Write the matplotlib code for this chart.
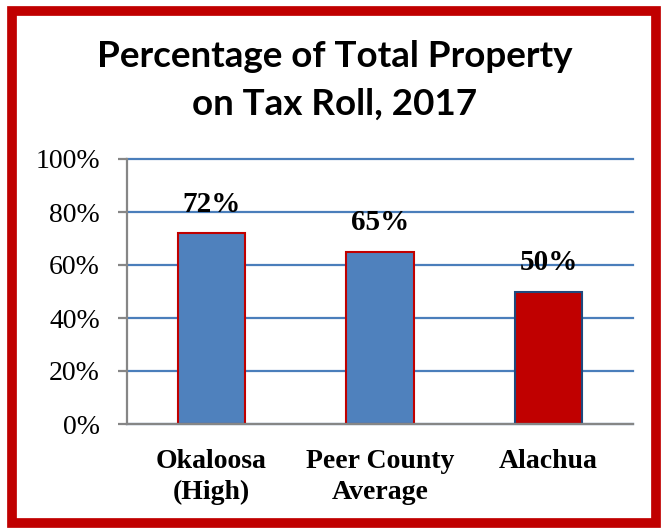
import matplotlib.pyplot as plt
from matplotlib.patches import Rectangle
from matplotlib.ticker import FuncFormatter

# Share of total property on the tax roll, 2017
counties = ['Okaloosa\n(High)', 'Peer County\nAverage', 'Alachua']
pct_on_roll = [72, 65, 50]
bar_colors = ['#4F81BD', '#4F81BD', '#C00000']
edge_colors = ['#C00000', '#C00000', '#1F497D']
y_ticks = [0, 20, 40, 60, 80, 100]
title_lines = ['Percentage of Total Property', 'on Tax Roll, 2017']

W, H = 661, 529
fig = plt.figure(figsize=(W / 100, H / 100), dpi=100)
fig.patch.set_facecolor('white')

ax = fig.add_axes([127 / W, 1 - 424 / H, (633 - 127) / W, (424 - 159) / H])

x = range(len(counties))
ax.bar(x, pct_on_roll, width=0.40, color=bar_colors, edgecolor=edge_colors,
       linewidth=1.5, zorder=3)

# value labels above the bars
for xi, v in zip(x, pct_on_roll):
    ax.annotate(f'{v}%', (xi, v), xytext=(0, 11), textcoords='offset points',
                ha='center', va='bottom', fontsize=21, fontweight='bold',
                family='Liberation Serif', color='black')

ax.set_xlim(-0.5, len(counties) - 0.5)
ax.set_ylim(0, 100)
ax.set_yticks(y_ticks)
ax.yaxis.set_major_formatter(FuncFormatter(lambda v, p: f'{v:.0f}%'))
ax.set_xticks(list(x))
ax.set_xticklabels(counties, fontsize=20, fontweight='bold',
                   family='Liberation Serif', linespacing=1.3)

# gridlines
ax.grid(axis='y', color='#4A7EBB', linewidth=1.6, zorder=0)
for gl in ax.get_ygridlines():
    gl.set_clip_on(False)
ax.set_axisbelow(True)

for side in ['top', 'right']:
    ax.spines[side].set_visible(False)
for side in ['left', 'bottom']:
    ax.spines[side].set_color('#868686')
    ax.spines[side].set_linewidth(1.6)
    ax.spines[side].set_zorder(4)
ax.tick_params(axis='y', length=6.5, width=1.6, color='#868686', pad=13,
               labelsize=20)
ax.tick_params(axis='x', length=0, pad=18)
for lbl in ax.get_yticklabels():
    lbl.set_family('Liberation Serif')

# two-line title
for line, base_y in zip(title_lines, [67, 115]):
    fig.text(335 / W, 1 - base_y / H, line, ha='center', va='baseline',
             fontsize=26.5, fontweight='bold', family='Lato')

# red frame round the whole chart
fig.patches.append(Rectangle((12 / W, 1 - 523 / H), (656 - 12) / W, (523 - 11) / H,
                             transform=fig.transFigure, fill=False,
                             edgecolor='#C00000', linewidth=7))

plt.savefig('out.png', dpi=100)
